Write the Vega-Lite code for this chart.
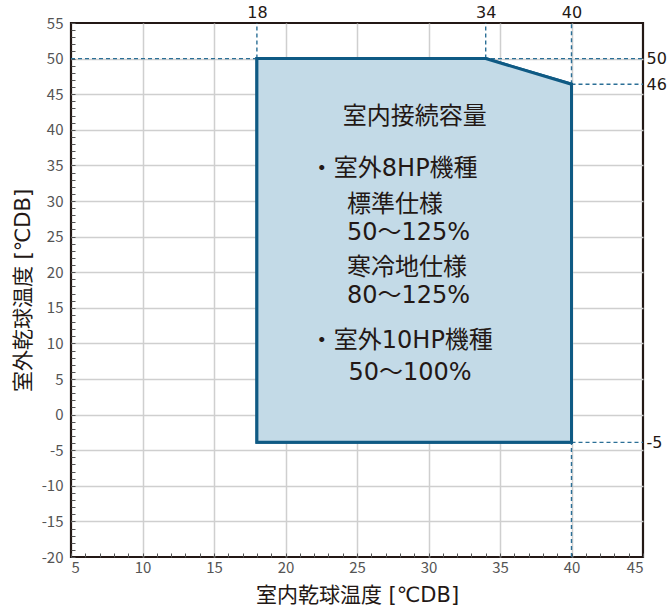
{
  "$schema": "https://vega.github.io/schema/vega-lite/v6.json",
  "autosize": "none",
  "width": 572,
  "height": 534,
  "padding": {"left": 71, "top": 23, "right": 24, "bottom": 57},
  "background": "white",
  "config": {
    "view": {"stroke": "#231815", "strokeWidth": 2.2},
    "font": "Noto Sans CJK JP"
  },
  "datasets": {
    "outline": [
      {"x": 18, "lo": -3.9, "hi": 50},
      {"x": 34, "lo": -3.9, "hi": 50},
      {"x": 40, "lo": -3.9, "hi": 46.4}
    ],
    "guides": [
      {"x": 5, "y": 50, "x2": 45, "y2": 50},
      {"x": 18, "y": 50, "x2": 18, "y2": 55},
      {"x": 34, "y": 50, "x2": 34, "y2": 55},
      {"x": 40, "y": 46.4, "x2": 40, "y2": 55},
      {"x": 40, "y": 46.4, "x2": 45, "y2": 46.4},
      {"x": 40, "y": -3.9, "x2": 45, "y2": -3.9},
      {"x": 40, "y": -20, "x2": 40, "y2": -3.9}
    ],
    "notes": [
      {"x": 24.0, "y": 41.8, "text": "室内接続容量"},
      {"x": 21.7, "y": 34.5, "text": "・室外8HP機種"},
      {"x": 24.3, "y": 29.4, "text": "標準仕様"},
      {"x": 24.3, "y": 25.5, "text": "50～125%"},
      {"x": 24.3, "y": 20.65, "text": "寒冷地仕様"},
      {"x": 24.3, "y": 16.6, "text": "80～125%"},
      {"x": 21.7, "y": 10.3, "text": "・室外10HP機種"},
      {"x": 24.4, "y": 5.8, "text": "50～100%"}
    ]
  },
  "resolve": {"axis": {"x": "independent", "y": "independent"}},
  "layer": [
    {
      "data": {"name": "outline"},
      "mark": {"type": "area", "fill": "#c3dae7", "stroke": "#0f5a84", "strokeWidth": 3, "strokeJoin": "miter", "fillOpacity": 1},
      "encoding": {
        "x": {
          "field": "x", "type": "quantitative",
          "scale": {"domain": [5, 45], "nice": false, "zero": false},
          "axis": {
            "orient": "bottom",
            "values": [5,6,7,8,9,10,11,12,13,14,15,16,17,18,19,20,21,22,23,24,25,26,27,28,29,30,31,32,33,34,35,36,37,38,39,40,41,42,43,44,45],
            "labelExpr": "datum.value % 5 === 0 ? toString(datum.value) : ''",
            "grid": true,
            "gridColor": "#cfcfcf",
            "gridWidth": 1.5,
            "gridOpacity": {"condition": {"test": "datum.value % 5 === 0 && datum.value > 5 && datum.value < 45", "value": 1}, "value": 0},
            "ticks": true,
            "tickSize": -4,
            "tickColor": "#555555",
            "tickWidth": 1,
            "domain": false,
            "labelFontSize": 15,
            "labelColor": "#555555",
            "labelPadding": 7,
            "title": "室内乾球温度 [℃DB]",
            "titleFont": "DejaVu Sans, Noto Sans CJK JP",
            "titleFontSize": 21,
            "titleFontWeight": "normal",
            "titleColor": "#231815",
            "titlePadding": 9
          }
        },
        "y": {
          "field": "lo", "type": "quantitative",
          "scale": {"domain": [-20, 55], "nice": false, "zero": false},
          "axis": {
            "orient": "left",
            "values": [-20,-19,-18,-17,-16,-15,-14,-13,-12,-11,-10,-9,-8,-7,-6,-5,-4,-3,-2,-1,0,1,2,3,4,5,6,7,8,9,10,11,12,13,14,15,16,17,18,19,20,21,22,23,24,25,26,27,28,29,30,31,32,33,34,35,36,37,38,39,40,41,42,43,44,45,46,47,48,49,50,51,52,53,54,55],
            "labelExpr": "datum.value % 5 === 0 ? toString(datum.value) : ''",
            "grid": true,
            "gridColor": "#cfcfcf",
            "gridWidth": 1.5,
            "gridOpacity": {"condition": {"test": "datum.value % 5 === 0 && datum.value > -20 && datum.value < 55", "value": 1}, "value": 0},
            "ticks": true,
            "tickSize": -4,
            "tickColor": "#555555",
            "tickWidth": 1,
            "domain": false,
            "labelFontSize": 15,
            "labelColor": "#555555",
            "labelPadding": 12,
            "title": "室外乾球温度 [℃DB]",
            "titleFont": "DejaVu Sans, Noto Sans CJK JP",
            "titleFontSize": 21,
            "titleFontWeight": "normal",
            "titleColor": "#231815",
            "titlePadding": 8
          }
        },
        "y2": {"field": "hi"}
      }
    },
    {
      "data": {"name": "guides"},
      "mark": {"type": "rule", "stroke": "#2b6f96", "strokeWidth": 1.4, "strokeDash": [4, 3]},
      "encoding": {
        "x": {
          "field": "x", "type": "quantitative",
          "axis": {
            "orient": "top",
            "values": [18, 34, 40],
            "ticks": false, "domain": false, "grid": false,
            "labelFont": "DejaVu Sans",
            "labelFontSize": 16, "labelColor": "#231815", "labelPadding": 3,
            "title": null
          }
        },
        "x2": {"field": "x2"},
        "y": {
          "field": "y", "type": "quantitative",
          "axis": {
            "orient": "right",
            "values": [50, 46.4, -3.9],
            "labelExpr": "datum.value > 48 ? '50' : (datum.value > 0 ? '46' : '-5')",
            "ticks": false, "domain": false, "grid": false,
            "labelFont": "DejaVu Sans",
            "labelFontSize": 16, "labelColor": "#231815", "labelPadding": 3,
            "title": null
          }
        },
        "y2": {"field": "y2"}
      }
    },
    {
      "data": {"name": "outline"},
      "mark": {"type": "area", "fill": "#c3dae7", "stroke": "#0f5a84", "strokeWidth": 3, "strokeJoin": "miter", "fillOpacity": 1},
      "encoding": {
        "x": {"field": "x", "type": "quantitative", "axis": null},
        "y": {"field": "lo", "type": "quantitative", "axis": null},
        "y2": {"field": "hi"}
      }
    },
    {
      "data": {"name": "notes"},
      "mark": {"type": "text", "align": "left", "baseline": "middle", "fontSize": 24, "color": "#231815", "font": "DejaVu Sans, Noto Sans CJK JP"},
      "encoding": {
        "x": {"field": "x", "type": "quantitative", "axis": null},
        "y": {"field": "y", "type": "quantitative", "axis": null},
        "text": {"field": "text"}
      }
    }
  ]
}
